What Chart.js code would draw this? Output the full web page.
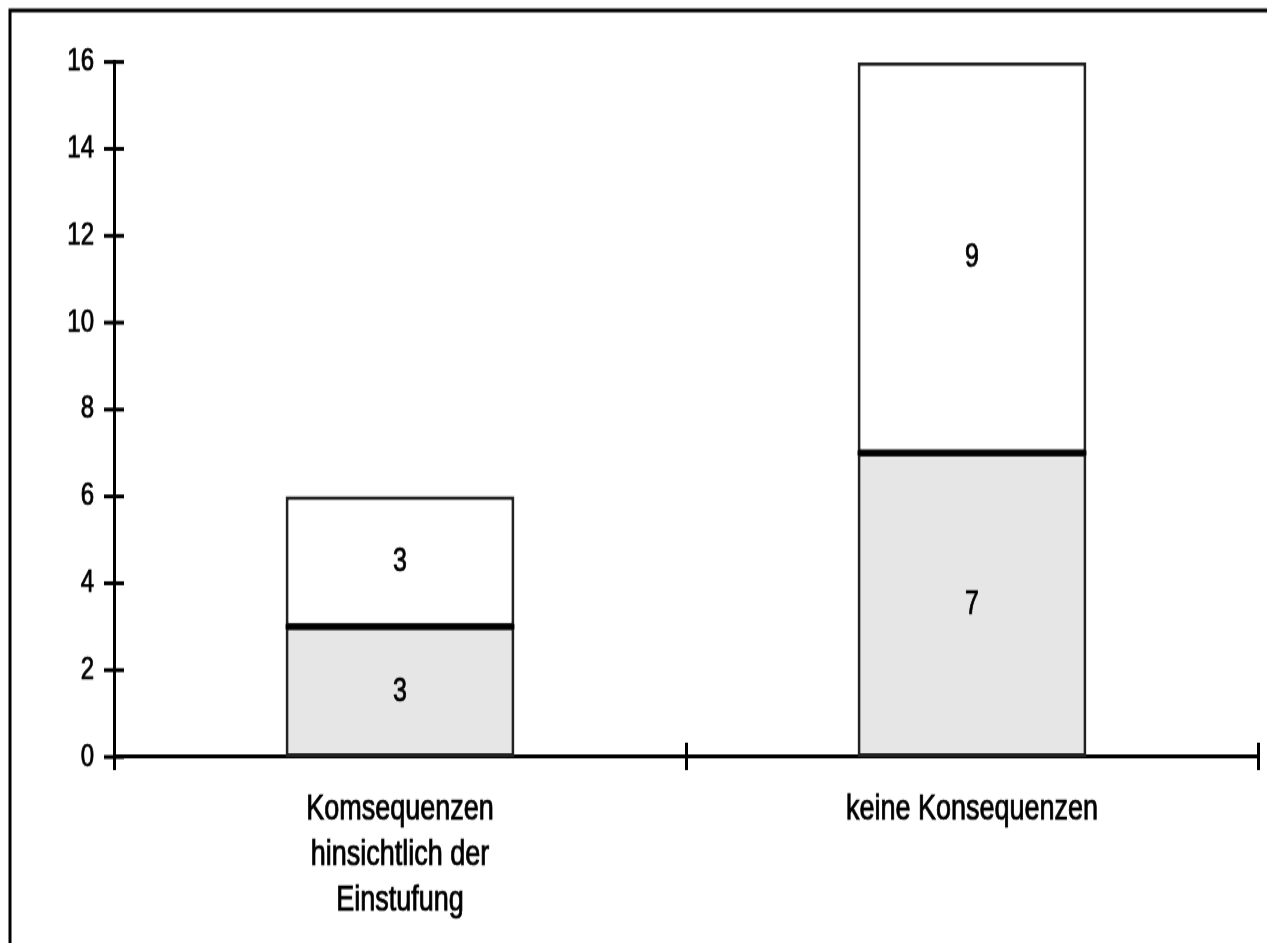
<!DOCTYPE html>
<html>
<head>
<meta charset="utf-8">
<script src="https://cdn.jsdelivr.net/npm/chart.js@4/dist/chart.umd.min.js"></script>
<style>
  html, body { margin: 0; padding: 0; background: #fff; overflow: hidden; }
  #outer { width: 1267px; height: 943px; overflow: hidden; background: #fff; }
  #wrap { position: relative; width: 1267px; height: 725px; transform: scaleY(1.3007); transform-origin: 0 0; }
</style>
</head>
<body>
<div id="outer"><div id="wrap"><canvas id="c"></canvas></div></div>
<script>
const categories = [['Komsequenzen', 'hinsichtlich der', 'Einstufung'], 'keine Konsequenzen'];
const lowerValues = [3, 7];
const upperValues = [3, 9];
const yMin = 0;
const yMax = 16;
const yStep = 2;

const FONT = '"Liberation Sans", Arial, Helvetica, sans-serif';
const S = 1.3007; // vertical stretch of the whole drawing

const framePlugin = {
  id: 'frame',
  beforeDraw(chart) {
    const ctx = chart.ctx;
    ctx.save();
    ctx.fillStyle = '#fff';
    ctx.fillRect(0, 0, chart.width, chart.height);
    ctx.strokeStyle = '#000';
    ctx.lineWidth = 3;
    ctx.beginPath();
    ctx.moveTo(10, chart.height + 5);
    ctx.lineTo(10, 8);
    ctx.lineTo(chart.width + 5, 8);
    ctx.stroke();
    ctx.restore();
  }
};

const tickPlugin = {
  id: 'crossTicks',
  afterDraw(chart) {
    const ctx = chart.ctx;
    const xs = chart.scales.x;
    const ys = chart.scales.y;
    const area = chart.chartArea;
    ctx.save();
    ctx.strokeStyle = '#000';
    ctx.lineWidth = 3;
    ys.ticks.forEach((t, i) => {
      const py = ys.getPixelForTick(i);
      ctx.beginPath();
      ctx.moveTo(area.left - 10, py);
      ctx.lineTo(area.left + 10, py);
      ctx.stroke();
    });
    for (let i = 0; i <= categories.length; i++) {
      const px = Math.round(xs.getPixelForValue(i - 0.5)) + 0.5;
      ctx.beginPath();
      ctx.moveTo(px, area.bottom - 11);
      ctx.lineTo(px, area.bottom + 10);
      ctx.stroke();
    }
    ctx.restore();
  }
};

const dividerPlugin = {
  id: 'divider',
  afterDatasetsDraw(chart) {
    const ctx = chart.ctx;
    const ys = chart.scales.y;
    const meta = chart.getDatasetMeta(0);
    ctx.save();
    ctx.strokeStyle = '#000';
    ctx.lineWidth = 4;
    meta.data.forEach((bar, i) => {
      const py = ys.getPixelForValue(lowerValues[i]);
      ctx.beginPath();
      ctx.moveTo(bar.x - bar.width / 2, py);
      ctx.lineTo(bar.x + bar.width / 2, py);
      ctx.stroke();
    });
    ctx.restore();
  }
};

const valueLabelPlugin = {
  id: 'valueLabels',
  afterDatasetsDraw(chart) {
    const ctx = chart.ctx;
    ctx.save();
    ctx.fillStyle = '#000';
    ctx.strokeStyle = '#000';
    ctx.lineWidth = 0.7;
    ctx.font = '25px ' + FONT;
    ctx.textAlign = 'center';
    ctx.textBaseline = 'middle';
    chart.data.datasets.forEach((ds, di) => {
      const meta = chart.getDatasetMeta(di);
      meta.data.forEach((bar, i) => {
        const v = ds.data[i];
        const cy = (bar.y + bar.base) / 2;
        ctx.strokeText(String(v), bar.x, cy);
        ctx.fillText(String(v), bar.x, cy);
      });
    });
    ctx.restore();
  }
};

new Chart(document.getElementById('c'), {
  type: 'bar',
  data: {
    labels: categories,
    datasets: [
      {
        label: 'A',
        data: lowerValues,
        backgroundColor: '#e6e6e6',
        borderColor: '#222',
        borderWidth: 3,
        borderSkipped: false
      },
      {
        label: 'B',
        data: upperValues,
        backgroundColor: '#ffffff',
        borderColor: '#222',
        borderWidth: 3,
        borderSkipped: false
      }
    ]
  },
  options: {
    responsive: true,
    maintainAspectRatio: false,
    animation: false,
    devicePixelRatio: 1,
    layout: { padding: { top: 62 / S, right: 9, left: 0, bottom: 0 } },
    plugins: {
      legend: { display: false },
      tooltip: { enabled: false }
    },
    datasets: {
      bar: { categoryPercentage: 0.4, barPercentage: 1.0 }
    },
    scales: {
      x: {
        stacked: true,
        offset: true,
        grid: { display: false },
        border: { display: true, color: '#000', width: 3 },
        ticks: {
          color: '#000',
          textStrokeColor: '#000',
          textStrokeWidth: 0.7,
          font: { family: FONT, size: 27, lineHeight: 1.3 },
          padding: 15,
          maxRotation: 0,
          autoSkip: false
        },
        afterFit(scale) { scale.height = 725 - 757 / S; }
      },
      y: {
        stacked: true,
        min: yMin,
        max: yMax,
        grid: { display: false },
        border: { display: true, color: '#000', width: 3 },
        ticks: {
          stepSize: yStep,
          color: '#000',
          textStrokeColor: '#000',
          textStrokeWidth: 0.7,
          font: { family: FONT, size: 24 },
          padding: 12
        },
        afterFit(scale) { scale.width = 114; }
      }
    }
  },
  plugins: [framePlugin, tickPlugin, dividerPlugin, valueLabelPlugin]
});
</script>
</body>
</html>
